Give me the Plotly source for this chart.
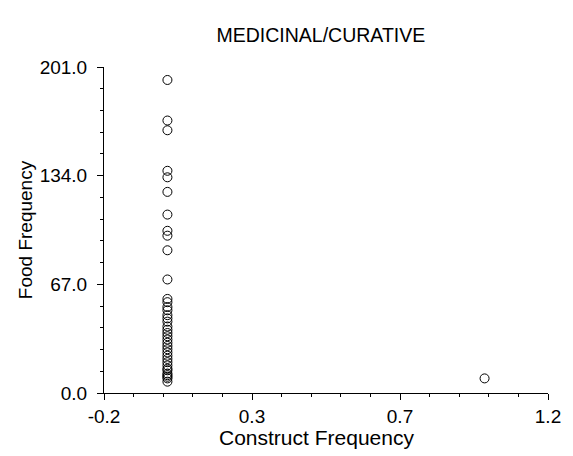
import plotly.graph_objects as go

# Data
construct_freq = [0.0] * 38 + [1.0]
food_freq = [193, 168, 162, 137, 133, 124, 110, 100, 97, 88, 70,
             58, 56, 53, 51, 48, 46, 44, 41, 39, 37, 35, 33, 31, 29,
             27, 25, 23, 21, 19, 17, 15, 14, 12, 11, 10, 9, 7,
             9]

x_tickvals = [-0.2, -0.2 + 1.4 / 3, -0.2 + 2.8 / 3, 1.2]
x_ticktext = ["-0.2", "0.3", "0.7", "1.2"]
y_tickvals = [0, 67, 134, 201]
y_ticktext = ["0.0", "67.0", "134.0", "201.0"]

font_family = "Liberation Sans, Arial, sans-serif"

fig = go.Figure()
fig.add_trace(go.Scatter(
    x=construct_freq, y=food_freq, mode="markers",
    marker=dict(symbol="circle-open", size=9, color="black",
                line=dict(width=1, color="black")),
    cliponaxis=False, showlegend=False,
))

axis_common = dict(
    showgrid=False, zeroline=False, showline=True, linecolor="black",
    linewidth=1, ticks="outside", ticklen=6, tickwidth=1, tickcolor="black",
    tickfont=dict(family=font_family, size=19, color="black"),
)

fig.update_layout(
    width=573, height=456,
    margin=dict(l=104, r=21, t=67, b=63),
    paper_bgcolor="white", plot_bgcolor="white",
    title=dict(text="MEDICINAL/CURATIVE", x=0.56, xanchor="center",
               y=1 - 35 / 456, yanchor="middle",
               font=dict(family=font_family, size=19.5, color="black")),
    xaxis=dict(range=[-0.2, 1.2], tickmode="array", tickvals=x_tickvals,
               ticktext=x_ticktext, ticklabelstandoff=0,
               minor=dict(tick0=-0.2, dtick=1.4 / 15, ticks="outside",
                          ticklen=3, tickcolor="black"),
               **axis_common),
    yaxis=dict(range=[0, 201], tickmode="array", tickvals=y_tickvals,
               ticktext=y_ticktext, ticklabelstandoff=6,
               minor=dict(tick0=0, dtick=201 / 15, ticks="outside",
                          ticklen=3, tickcolor="black"),
               title=dict(text="Food Frequency", standoff=2,
                          font=dict(family=font_family, size=19, color="black")),
               **axis_common),
    annotations=[dict(text="Construct Frequency", xref="paper", yref="paper",
                      x=(318 - 104) / 448, y=-(437 - 393) / 326,
                      xanchor="center", yanchor="middle", showarrow=False,
                      font=dict(family=font_family, size=21, color="black"))],
)

fig.write_html("out.html")
